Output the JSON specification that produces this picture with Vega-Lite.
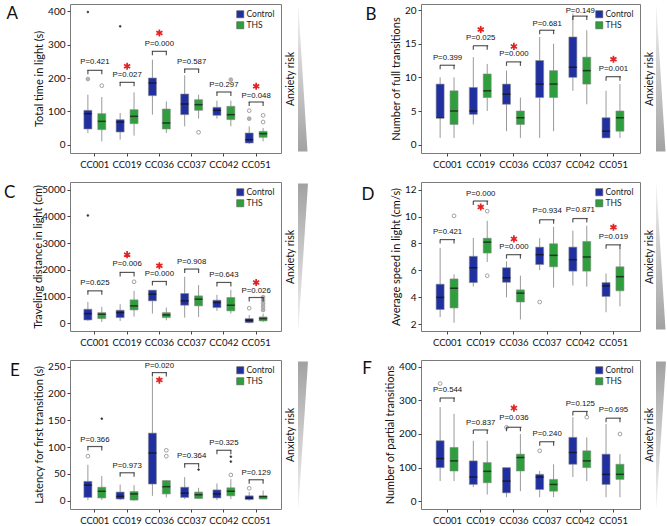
{
"$schema": "https://vega.github.io/schema/vega-lite/v6.json",
"padding": {"left": 3, "top": 3, "right": 0, "bottom": 0},
"columns": 4,
"align": "each",
"bounds": "full",
"spacing": {"row": 12, "column": 3},
"resolve": {"legend": {"color": "independent"}},
"config": {
 "font": "Lato",
 "view": {"stroke": "#7a7a7a", "strokeWidth": 1},
 "axis": {"grid": false, "domain": false, "labelOverlap": false, "labelFont": "Lato", "labelFontSize": 10, "labelColor": "#111", "tickColor": "#444", "tickSize": 3, "labelPadding": 2, "titleFont": "Lato", "titleFontSize": 11, "titleFontWeight": "normal", "titleColor": "#111", "titlePadding": 3},
 "axisY": {"labelOverlap": false, "tickCount": 12},
 "axisX": {"labelAngle": 0, "labelPadding": 3, "labelFontSize": 9.5},
 "legend": {"symbolType": "square", "symbolSize": 50, "labelFont": "Lato", "labelFontSize": 8.5, "labelColor": "#222", "rowPadding": 1, "padding": 0, "symbolStrokeColor": "#555", "symbolStrokeWidth": 0.6, "labelOffset": 2},
 "title": {"font": "Lato", "fontSize": 17, "fontWeight": "normal", "color": "#111", "orient": "left", "anchor": "end", "angle": 0, "align": "right", "baseline": "top", "frame": "group", "offset": 4}
},
"datasets": {
 "A_box": [
  {"g":"CC001","t":"Control","lo":35,"q1":47,"med":93,"q3":103,"hi":150},
  {"g":"CC001","t":"THS","lo":10,"q1":45,"med":70,"q3":93,"hi":143},
  {"g":"CC019","t":"Control","lo":15,"q1":38,"med":68,"q3":75,"hi":95},
  {"g":"CC019","t":"THS","lo":27,"q1":63,"med":85,"q3":105,"hi":157},
  {"g":"CC036","t":"Control","lo":90,"q1":147,"med":185,"q3":200,"hi":255},
  {"g":"CC036","t":"THS","lo":35,"q1":47,"med":65,"q3":107,"hi":130},
  {"g":"CC037","t":"Control","lo":55,"q1":90,"med":122,"q3":152,"hi":208},
  {"g":"CC037","t":"THS","lo":78,"q1":103,"med":120,"q3":135,"hi":150},
  {"g":"CC042","t":"Control","lo":78,"q1":88,"med":103,"q3":112,"hi":132},
  {"g":"CC042","t":"THS","lo":55,"q1":75,"med":90,"q3":115,"hi":132},
  {"g":"CC051","t":"Control","lo":2,"q1":5,"med":15,"q3":35,"hi":55},
  {"g":"CC051","t":"THS","lo":10,"q1":22,"med":33,"q3":40,"hi":50}
 ],
 "A_out": [
  {"g":"CC001","t":"Control","v":197,"k":"f"},
  {"g":"CC001","t":"Control","v":398,"k":"s"},
  {"g":"CC001","t":"THS","v":177,"k":"o"},
  {"g":"CC019","t":"Control","v":355,"k":"s"},
  {"g":"CC037","t":"THS","v":37,"k":"o"},
  {"g":"CC042","t":"THS","v":195,"k":"f"},
  {"g":"CC051","t":"Control","v":102,"k":"o"},
  {"g":"CC051","t":"Control","v":78,"k":"f"},
  {"g":"CC051","t":"THS","v":88,"k":"o"},
  {"g":"CC051","t":"THS","v":68,"k":"o"}
 ],
 "A_ann": [
  {"g":"CC001","p":"P=0.421","yb":223,"yp":247,"ys":null},
  {"g":"CC019","p":"P=0.027","yb":187,"yp":208,"ys":235},
  {"g":"CC036","p":"P=0.000","yb":280,"yp":303,"ys":335},
  {"g":"CC037","p":"P=0.587","yb":227,"yp":247,"ys":null},
  {"g":"CC042","p":"P=0.297","yb":158,"yp":180,"ys":null},
  {"g":"CC051","p":"P=0.048","yb":128,"yp":147,"ys":175}
 ],
 "B_box": [
  {"g":"CC001","t":"Control","lo":1,"q1":4,"med":4,"q3":9,"hi":10},
  {"g":"CC001","t":"THS","lo":1,"q1":3,"med":5,"q3":8,"hi":10},
  {"g":"CC019","t":"Control","lo":3,"q1":4.5,"med":5,"q3":8.5,"hi":13},
  {"g":"CC019","t":"THS","lo":5,"q1":7,"med":8,"q3":10.5,"hi":12},
  {"g":"CC036","t":"Control","lo":2,"q1":6,"med":7.5,"q3":9,"hi":11},
  {"g":"CC036","t":"THS","lo":1,"q1":3,"med":4,"q3":5,"hi":7},
  {"g":"CC037","t":"Control","lo":1,"q1":7,"med":9,"q3":12.5,"hi":16},
  {"g":"CC037","t":"THS","lo":2,"q1":7,"med":9,"q3":11,"hi":15},
  {"g":"CC042","t":"Control","lo":8,"q1":10,"med":11.5,"q3":16,"hi":19.5},
  {"g":"CC042","t":"THS","lo":6,"q1":9,"med":11,"q3":13,"hi":17},
  {"g":"CC051","t":"Control","lo":1,"q1":1,"med":2,"q3":4,"hi":8},
  {"g":"CC051","t":"THS","lo":1,"q1":2,"med":4,"q3":5,"hi":9}
 ],
 "B_ann": [
  {"g":"CC001","p":"P=0.399","yb":11.8,"yp":12.9,"ys":null},
  {"g":"CC019","p":"P=0.025","yb":14.7,"yp":15.9,"ys":17.1},
  {"g":"CC036","p":"P=0.000","yb":12.3,"yp":13.4,"ys":14.6},
  {"g":"CC037","p":"P=0.681","yb":17,"yp":18,"ys":null},
  {"g":"CC042","p":"P=0.149","yb":19.1,"yp":19.9,"ys":null},
  {"g":"CC051","p":"P=0.001","yb":10.1,"yp":11.2,"ys":12.7}
 ],
 "C_box": [
  {"g":"CC001","t":"Control","lo":88,"q1":125,"med":363,"q3":526,"hi":802},
  {"g":"CC001","t":"THS","lo":50,"q1":175,"med":338,"q3":400,"hi":614},
  {"g":"CC019","t":"Control","lo":88,"q1":213,"med":400,"q3":489,"hi":714},
  {"g":"CC019","t":"THS","lo":250,"q1":501,"med":652,"q3":877,"hi":1215},
  {"g":"CC036","t":"Control","lo":363,"q1":840,"med":1090,"q3":1240,"hi":1240},
  {"g":"CC036","t":"THS","lo":113,"q1":213,"med":313,"q3":400,"hi":589},
  {"g":"CC037","t":"Control","lo":213,"q1":677,"med":840,"q3":1115,"hi":1742},
  {"g":"CC037","t":"THS","lo":238,"q1":652,"med":902,"q3":1027,"hi":1428},
  {"g":"CC042","t":"Control","lo":464,"q1":589,"med":777,"q3":865,"hi":1065},
  {"g":"CC042","t":"THS","lo":363,"q1":464,"med":677,"q3":965,"hi":1253},
  {"g":"CC051","t":"Control","lo":0,"q1":25,"med":113,"q3":175,"hi":313},
  {"g":"CC051","t":"THS","lo":50,"q1":88,"med":175,"q3":238,"hi":363}
 ],
 "C_out": [
  {"g":"CC001","t":"Control","v":4035,"k":"s"},
  {"g":"CC019","t":"THS","v":1554,"k":"o"},
  {"g":"CC051","t":"Control","v":564,"k":"o"},
  {"g":"CC051","t":"THS","v":500,"k":"f"},
  {"g":"CC051","t":"THS","v":620,"k":"f"},
  {"g":"CC051","t":"THS","v":740,"k":"f"},
  {"g":"CC051","t":"THS","v":860,"k":"f"},
  {"g":"CC051","t":"THS","v":980,"k":"f"}
 ],
 "C_ann": [
  {"g":"CC001","p":"P=0.625","yb":1215,"yp":1504,"ys":null},
  {"g":"CC019","p":"P=0.006","yb":1905,"yp":2218,"ys":2569},
  {"g":"CC036","p":"P=0.000","yb":1566,"yp":1842,"ys":2155},
  {"g":"CC037","p":"P=0.908","yb":2030,"yp":2306,"ys":null},
  {"g":"CC042","p":"P=0.643","yb":1529,"yp":1817,"ys":null},
  {"g":"CC051","p":"P=0.026","yb":965,"yp":1215,"ys":1529}
 ],
 "D_box": [
  {"g":"CC001","t":"Control","lo":2.54,"q1":3.1,"med":4.0,"q3":4.98,"hi":7.68},
  {"g":"CC001","t":"THS","lo":2.12,"q1":3.22,"med":4.68,"q3":5.37,"hi":5.71},
  {"g":"CC019","t":"Control","lo":4.8,"q1":5.1,"med":6.2,"q3":7.05,"hi":8.41},
  {"g":"CC019","t":"THS","lo":6.63,"q1":7.29,"med":8.1,"q3":8.39,"hi":9.68},
  {"g":"CC036","t":"Control","lo":4.0,"q1":5.12,"med":5.46,"q3":6.2,"hi":6.68},
  {"g":"CC036","t":"THS","lo":2.37,"q1":3.66,"med":4.32,"q3":4.56,"hi":5.61},
  {"g":"CC037","t":"Control","lo":6.02,"q1":6.44,"med":7.17,"q3":7.73,"hi":8.39},
  {"g":"CC037","t":"THS","lo":4.73,"q1":6.27,"med":7.12,"q3":7.98,"hi":9.24},
  {"g":"CC042","t":"Control","lo":4.88,"q1":5.95,"med":6.8,"q3":7.73,"hi":8.95},
  {"g":"CC042","t":"THS","lo":4.8,"q1":5.95,"med":7.0,"q3":8.15,"hi":9.32},
  {"g":"CC051","t":"Control","lo":2.9,"q1":4.07,"med":4.85,"q3":5.1,"hi":5.78},
  {"g":"CC051","t":"THS","lo":3.34,"q1":4.49,"med":5.54,"q3":6.27,"hi":7.66}
 ],
 "D_out": [
  {"g":"CC001","t":"THS","v":10.05,"k":"o"},
  {"g":"CC019","t":"THS","v":5.61,"k":"o"},
  {"g":"CC019","t":"THS","v":10.4,"k":"o"},
  {"g":"CC037","t":"Control","v":3.66,"k":"o"}
 ],
 "D_ann": [
  {"g":"CC001","p":"P=0.421","yb":8.29,"yp":8.88,"ys":null},
  {"g":"CC019","p":"P=0.000","yb":11.15,"yp":11.7,"ys":10.7},
  {"g":"CC036","p":"P=0.000","yb":7.17,"yp":7.73,"ys":8.34},
  {"g":"CC037","p":"P=0.934","yb":9.76,"yp":10.41,"ys":null},
  {"g":"CC042","p":"P=0.871","yb":9.85,"yp":10.49,"ys":null},
  {"g":"CC051","p":"P=0.019","yb":7.9,"yp":8.46,"ys":9.2}
 ],
 "E_box": [
  {"g":"CC001","t":"Control","lo":1,"q1":6,"med":29,"q3":36,"hi":67},
  {"g":"CC001","t":"THS","lo":1,"q1":5,"med":17.5,"q3":25,"hi":46},
  {"g":"CC019","t":"Control","lo":1,"q1":3,"med":8,"q3":16,"hi":30},
  {"g":"CC019","t":"THS","lo":0,"q1":1,"med":12.5,"q3":17,"hi":29},
  {"g":"CC036","t":"Control","lo":9,"q1":31,"med":89,"q3":126,"hi":230},
  {"g":"CC036","t":"THS","lo":6,"q1":12.5,"med":26,"q3":37.5,"hi":38},
  {"g":"CC037","t":"Control","lo":3,"q1":6,"med":14,"q3":25,"hi":44},
  {"g":"CC037","t":"THS","lo":3,"q1":4,"med":11,"q3":16,"hi":24},
  {"g":"CC042","t":"Control","lo":1,"q1":5,"med":12.5,"q3":20,"hi":32},
  {"g":"CC042","t":"THS","lo":3,"q1":9,"med":17.5,"q3":24,"hi":40},
  {"g":"CC051","t":"Control","lo":0,"q1":2,"med":5,"q3":9,"hi":16},
  {"g":"CC051","t":"THS","lo":3,"q1":3,"med":7.5,"q3":9,"hi":19}
 ],
 "E_out": [
  {"g":"CC001","t":"Control","v":83,"k":"o"},
  {"g":"CC001","t":"THS","v":153,"k":"s"},
  {"g":"CC036","t":"THS","v":94,"k":"o"},
  {"g":"CC036","t":"THS","v":83,"k":"o"},
  {"g":"CC037","t":"THS","v":58,"k":"s"},
  {"g":"CC042","t":"THS","v":48,"k":"o"},
  {"g":"CC042","t":"THS","v":73,"k":"s"},
  {"g":"CC042","t":"THS","v":82,"k":"s"},
  {"g":"CC051","t":"Control","v":23,"k":"o"}
 ],
 "E_ann": [
  {"g":"CC001","p":"P=0.366","yb":101,"yp":114,"ys":null},
  {"g":"CC019","p":"P=0.973","yb":52,"yp":64,"ys":null},
  {"g":"CC036","p":"P=0.020","yb":239,"yp":252,"ys":225},
  {"g":"CC037","p":"P=0.364","yb":69,"yp":83,"ys":null},
  {"g":"CC042","p":"P=0.325","yb":94,"yp":108,"ys":null},
  {"g":"CC051","p":"P=0.129","yb":39,"yp":52,"ys":null}
 ],
 "F_box": [
  {"g":"CC001","t":"Control","lo":60,"q1":100,"med":127,"q3":180,"hi":280},
  {"g":"CC001","t":"THS","lo":60,"q1":90,"med":120,"q3":160,"hi":260},
  {"g":"CC019","t":"Control","lo":42,"q1":50,"med":72,"q3":120,"hi":180},
  {"g":"CC019","t":"THS","lo":20,"q1":55,"med":89,"q3":115,"hi":180},
  {"g":"CC036","t":"Control","lo":12,"q1":25,"med":60,"q3":100,"hi":100},
  {"g":"CC036","t":"THS","lo":30,"q1":90,"med":130,"q3":140,"hi":200},
  {"g":"CC037","t":"Control","lo":12,"q1":35,"med":72,"q3":80,"hi":90},
  {"g":"CC037","t":"THS","lo":12,"q1":30,"med":50,"q3":65,"hi":110},
  {"g":"CC042","t":"Control","lo":72,"q1":110,"med":145,"q3":190,"hi":250},
  {"g":"CC042","t":"THS","lo":60,"q1":100,"med":120,"q3":150,"hi":190},
  {"g":"CC051","t":"Control","lo":12,"q1":50,"med":80,"q3":140,"hi":230},
  {"g":"CC051","t":"THS","lo":12,"q1":65,"med":80,"q3":110,"hi":140}
 ],
 "F_out": [
  {"g":"CC001","t":"Control","v":350,"k":"o"},
  {"g":"CC036","t":"Control","v":220,"k":"o"},
  {"g":"CC037","t":"Control","v":150,"k":"o"},
  {"g":"CC042","t":"THS","v":250,"k":"o"},
  {"g":"CC051","t":"THS","v":200,"k":"o"}
 ],
 "F_ann": [
  {"g":"CC001","p":"P=0.544","yb":307,"yp":330,"ys":null},
  {"g":"CC019","p":"P=0.837","yb":212,"yp":232,"ys":null},
  {"g":"CC036","p":"P=0.036","yb":220,"yp":247,"ys":277},
  {"g":"CC037","p":"P=0.240","yb":177,"yp":199,"ys":null},
  {"g":"CC042","p":"P=0.125","yb":267,"yp":289,"ys":null},
  {"g":"CC051","p":"P=0.695","yb":247,"yp":272,"ys":null}
 ],
 "wedge_up": [{"t":0.01,"a":0,"b":9.5},{"t":0.985,"a":0,"b":0.4}],
 "wedge_down": [{"t":0.01,"a":0,"b":0.4},{"t":0.99,"a":0,"b":10}]
},
"concat": [
 {"width": 211, "height": 149,
  "title": {"text": "A", "dy": 2},
  "layer": [
   {"data": {"name": "A_box"}, "mark": {"type": "rule", "color": "#9a9a9a", "strokeWidth": 1},
    "encoding": {"x": {"field": "g", "type": "nominal", "scale": {"paddingOuter": 0.27, "paddingInner": 0}, "axis": {"title": null}},
     "xOffset": {"field": "t", "type": "nominal", "scale": {"domain": ["Control","THS"], "paddingOuter": 0.16, "paddingInner": 0}},
     "y": {"field": "lo", "type": "quantitative", "scale": {"domain": [-25, 422], "nice": false, "zero": false}, "axis": {"title": "Total time in light (s)", "values": [0,100,200,300,400], "tickCount": 12, "labelOverlap": false}},
     "y2": {"field": "hi"}}},
   {"data": {"name": "A_box"}, "mark": {"type": "bar", "size": 8, "stroke": "#8a8a8a", "strokeWidth": 0.6},
    "encoding": {"x": {"field": "g", "type": "nominal"}, "xOffset": {"field": "t", "type": "nominal"},
     "y": {"field": "q1", "type": "quantitative"}, "y2": {"field": "q3"},
     "color": {"field": "t", "type": "nominal", "scale": {"domain": ["Control","THS"], "range": ["#2030a0","#2f9e3c"]}, "legend": {"title": null, "orient": "top-right", "offset": 6}}}},
   {"data": {"name": "A_box"}, "mark": {"type": "tick", "orient": "horizontal", "color": "#111", "size": 8, "thickness": 1.5},
    "encoding": {"x": {"field": "g", "type": "nominal"}, "xOffset": {"field": "t", "type": "nominal"}, "y": {"field": "med", "type": "quantitative"}}},
   {"data": {"name": "A_out"}, "mark": {"type": "point", "shape": "circle", "strokeWidth": 0.8, "opacity": 1},
    "encoding": {"x": {"field": "g", "type": "nominal"}, "xOffset": {"field": "t", "type": "nominal"}, "y": {"field": "v", "type": "quantitative"},
     "fill": {"field": "k", "type": "nominal", "scale": {"domain": ["o","f","s"], "range": ["#ffffff","#b5b5b5","#333333"]}, "legend": null},
     "stroke": {"field": "k", "type": "nominal", "scale": {"domain": ["o","f","s"], "range": ["#8a8a8a","#9a9a9a","#333333"]}, "legend": null},
     "size": {"field": "k", "type": "ordinal", "scale": {"type": "ordinal", "domain": ["o","f","s"], "range": [14,14,3]}, "legend": null}}},
   {"data": {"name": "A_ann"}, "mark": {"type": "tick", "orient": "horizontal", "size": 15, "thickness": 1.2, "color": "#111"},
    "encoding": {"x": {"field": "g", "type": "nominal"}, "y": {"field": "yb", "type": "quantitative"}}},
   {"data": {"name": "A_ann"}, "mark": {"type": "tick", "orient": "vertical", "size": 4, "thickness": 1.2, "color": "#111", "yOffset": 2},
    "encoding": {"x": {"field": "g", "type": "nominal"}, "xOffset": {"datum": "Control"}, "y": {"field": "yb", "type": "quantitative"}}},
   {"data": {"name": "A_ann"}, "mark": {"type": "tick", "orient": "vertical", "size": 4, "thickness": 1.2, "color": "#111", "yOffset": 2},
    "encoding": {"x": {"field": "g", "type": "nominal"}, "xOffset": {"datum": "THS"}, "y": {"field": "yb", "type": "quantitative"}}},
   {"data": {"name": "A_ann"}, "mark": {"type": "text", "font": "Liberation Sans", "fontSize": 7.8, "color": "#111", "baseline": "middle"},
    "encoding": {"x": {"field": "g", "type": "nominal"}, "y": {"field": "yp", "type": "quantitative"}, "text": {"field": "p"}}},
   {"data": {"name": "A_ann"}, "transform": [{"filter": "datum.ys != null"}], "mark": {"type": "point", "shape": "M0,-1L0,1M-0.87,-0.5L0.87,0.5M-0.87,0.5L0.87,-0.5", "filled": false, "color": "#e52222", "strokeWidth": 1.7, "size": 50, "opacity": 1},
    "encoding": {"x": {"field": "g", "type": "nominal"}, "y": {"field": "ys", "type": "quantitative"}}}
  ]},
 {"width": 60, "height": 149, "view": {"stroke": null},
  "data": {"name": "wedge_up"},
  "mark": {"type": "area", "orient": "horizontal", "color": {"gradient": "linear", "x1": 0, "y1": 0, "x2": 0, "y2": 1, "stops": [{"offset": 0, "color": "#f2f2f2"}, {"offset": 1, "color": "#a2a2a2"}]}},
  "encoding": {"y": {"field": "t", "type": "quantitative", "scale": {"domain": [0, 1]}, "axis": {"title": "Anxiety risk", "titleFontSize": 10.5, "labels": false, "ticks": false, "domain": false, "titlePadding": 3}},
   "x": {"field": "a", "type": "quantitative", "scale": {"domain": [0, 60]}, "axis": null}, "x2": {"field": "b"}}},
 {"width": 219, "height": 149,
  "title": {"text": "B", "dy": 3, "offset": 3},
  "layer": [
   {"data": {"name": "B_box"}, "mark": {"type": "rule", "color": "#9a9a9a", "strokeWidth": 1},
    "encoding": {"x": {"field": "g", "type": "nominal", "scale": {"paddingOuter": 0.3, "paddingInner": 0}, "axis": {"title": null}},
     "xOffset": {"field": "t", "type": "nominal", "scale": {"domain": ["Control","THS"], "paddingOuter": 0.16, "paddingInner": 0}},
     "y": {"field": "lo", "type": "quantitative", "scale": {"domain": [-1.24, 20.9], "nice": false, "zero": false}, "axis": {"title": "Number of full transitions", "values": [0,5,10,15,20], "tickCount": 12, "labelOverlap": false}},
     "y2": {"field": "hi"}}},
   {"data": {"name": "B_box"}, "mark": {"type": "bar", "size": 8, "stroke": "#8a8a8a", "strokeWidth": 0.6},
    "encoding": {"x": {"field": "g", "type": "nominal"}, "xOffset": {"field": "t", "type": "nominal"},
     "y": {"field": "q1", "type": "quantitative"}, "y2": {"field": "q3"},
     "color": {"field": "t", "type": "nominal", "scale": {"domain": ["Control","THS"], "range": ["#2030a0","#2f9e3c"]}, "legend": {"title": null, "orient": "top-right", "offset": 6}}}},
   {"data": {"name": "B_box"}, "mark": {"type": "tick", "orient": "horizontal", "color": "#111", "size": 8, "thickness": 1.5},
    "encoding": {"x": {"field": "g", "type": "nominal"}, "xOffset": {"field": "t", "type": "nominal"}, "y": {"field": "med", "type": "quantitative"}}},
   {"data": {"name": "B_ann"}, "mark": {"type": "tick", "orient": "horizontal", "size": 15, "thickness": 1.2, "color": "#111"},
    "encoding": {"x": {"field": "g", "type": "nominal"}, "y": {"field": "yb", "type": "quantitative"}}},
   {"data": {"name": "B_ann"}, "mark": {"type": "tick", "orient": "vertical", "size": 4, "thickness": 1.2, "color": "#111", "yOffset": 2},
    "encoding": {"x": {"field": "g", "type": "nominal"}, "xOffset": {"datum": "Control"}, "y": {"field": "yb", "type": "quantitative"}}},
   {"data": {"name": "B_ann"}, "mark": {"type": "tick", "orient": "vertical", "size": 4, "thickness": 1.2, "color": "#111", "yOffset": 2},
    "encoding": {"x": {"field": "g", "type": "nominal"}, "xOffset": {"datum": "THS"}, "y": {"field": "yb", "type": "quantitative"}}},
   {"data": {"name": "B_ann"}, "mark": {"type": "text", "font": "Liberation Sans", "fontSize": 7.8, "color": "#111", "baseline": "middle"},
    "encoding": {"x": {"field": "g", "type": "nominal"}, "y": {"field": "yp", "type": "quantitative"}, "text": {"field": "p"}}},
   {"data": {"name": "B_ann"}, "transform": [{"filter": "datum.ys != null"}], "mark": {"type": "point", "shape": "M0,-1L0,1M-0.87,-0.5L0.87,0.5M-0.87,0.5L0.87,-0.5", "filled": false, "color": "#e52222", "strokeWidth": 1.7, "size": 50, "opacity": 1},
    "encoding": {"x": {"field": "g", "type": "nominal"}, "y": {"field": "ys", "type": "quantitative"}}}
  ]},
 {"width": 10, "height": 149, "view": {"stroke": null},
  "data": {"name": "wedge_up"},
  "mark": {"type": "area", "orient": "horizontal", "color": {"gradient": "linear", "x1": 0, "y1": 0, "x2": 0, "y2": 1, "stops": [{"offset": 0, "color": "#f2f2f2"}, {"offset": 1, "color": "#a2a2a2"}]}},
  "encoding": {"y": {"field": "t", "type": "quantitative", "scale": {"domain": [0, 1]}, "axis": {"title": "Anxiety risk", "titleFontSize": 10.5, "labels": false, "ticks": false, "domain": false, "titlePadding": 2}},
   "x": {"field": "a", "type": "quantitative", "scale": {"domain": [0, 10]}, "axis": null}, "x2": {"field": "b"}}},
 {"width": 211, "height": 149,
  "title": {"text": "C", "dy": 3, "offset": 6},
  "layer": [
   {"data": {"name": "C_box"}, "mark": {"type": "rule", "color": "#9a9a9a", "strokeWidth": 1},
    "encoding": {"x": {"field": "g", "type": "nominal", "scale": {"paddingOuter": 0.27, "paddingInner": 0}, "axis": {"title": null}},
     "xOffset": {"field": "t", "type": "nominal", "scale": {"domain": ["Control","THS"], "paddingOuter": 0.16, "paddingInner": 0}},
     "y": {"field": "lo", "type": "quantitative", "scale": {"domain": [-288, 5288], "nice": false, "zero": false}, "axis": {"title": "Traveling distance in light (cm)", "values": [0,1000,2000,3000,4000,5000], "tickCount": 12, "format": "d", "titlePadding": -2, "labelOverlap": false}},
     "y2": {"field": "hi"}}},
   {"data": {"name": "C_box"}, "mark": {"type": "bar", "size": 8, "stroke": "#8a8a8a", "strokeWidth": 0.6},
    "encoding": {"x": {"field": "g", "type": "nominal"}, "xOffset": {"field": "t", "type": "nominal"},
     "y": {"field": "q1", "type": "quantitative"}, "y2": {"field": "q3"},
     "color": {"field": "t", "type": "nominal", "scale": {"domain": ["Control","THS"], "range": ["#2030a0","#2f9e3c"]}, "legend": {"title": null, "orient": "top-right", "offset": 6}}}},
   {"data": {"name": "C_box"}, "mark": {"type": "tick", "orient": "horizontal", "color": "#111", "size": 8, "thickness": 1.5},
    "encoding": {"x": {"field": "g", "type": "nominal"}, "xOffset": {"field": "t", "type": "nominal"}, "y": {"field": "med", "type": "quantitative"}}},
   {"data": {"name": "C_out"}, "mark": {"type": "point", "shape": "circle", "strokeWidth": 0.8, "opacity": 1},
    "encoding": {"x": {"field": "g", "type": "nominal"}, "xOffset": {"field": "t", "type": "nominal"}, "y": {"field": "v", "type": "quantitative"},
     "fill": {"field": "k", "type": "nominal", "scale": {"domain": ["o","f","s"], "range": ["#ffffff","#b5b5b5","#333333"]}, "legend": null},
     "stroke": {"field": "k", "type": "nominal", "scale": {"domain": ["o","f","s"], "range": ["#8a8a8a","#9a9a9a","#333333"]}, "legend": null},
     "size": {"field": "k", "type": "ordinal", "scale": {"type": "ordinal", "domain": ["o","f","s"], "range": [14,14,3]}, "legend": null}}},
   {"data": {"name": "C_ann"}, "mark": {"type": "tick", "orient": "horizontal", "size": 15, "thickness": 1.2, "color": "#111"},
    "encoding": {"x": {"field": "g", "type": "nominal"}, "y": {"field": "yb", "type": "quantitative"}}},
   {"data": {"name": "C_ann"}, "mark": {"type": "tick", "orient": "vertical", "size": 4, "thickness": 1.2, "color": "#111", "yOffset": 2},
    "encoding": {"x": {"field": "g", "type": "nominal"}, "xOffset": {"datum": "Control"}, "y": {"field": "yb", "type": "quantitative"}}},
   {"data": {"name": "C_ann"}, "mark": {"type": "tick", "orient": "vertical", "size": 4, "thickness": 1.2, "color": "#111", "yOffset": 2},
    "encoding": {"x": {"field": "g", "type": "nominal"}, "xOffset": {"datum": "THS"}, "y": {"field": "yb", "type": "quantitative"}}},
   {"data": {"name": "C_ann"}, "mark": {"type": "text", "font": "Liberation Sans", "fontSize": 7.8, "color": "#111", "baseline": "middle"},
    "encoding": {"x": {"field": "g", "type": "nominal"}, "y": {"field": "yp", "type": "quantitative"}, "text": {"field": "p"}}},
   {"data": {"name": "C_ann"}, "transform": [{"filter": "datum.ys != null"}], "mark": {"type": "point", "shape": "M0,-1L0,1M-0.87,-0.5L0.87,0.5M-0.87,0.5L0.87,-0.5", "filled": false, "color": "#e52222", "strokeWidth": 1.7, "size": 50, "opacity": 1},
    "encoding": {"x": {"field": "g", "type": "nominal"}, "y": {"field": "ys", "type": "quantitative"}}}
  ]},
 {"width": 60, "height": 149, "view": {"stroke": null},
  "data": {"name": "wedge_down"},
  "mark": {"type": "area", "orient": "horizontal", "color": {"gradient": "linear", "x1": 0, "y1": 0, "x2": 0, "y2": 1, "stops": [{"offset": 0, "color": "#a2a2a2"}, {"offset": 1, "color": "#f2f2f2"}]}},
  "encoding": {"y": {"field": "t", "type": "quantitative", "scale": {"domain": [0, 1]}, "axis": {"title": "Anxiety risk", "titleFontSize": 10.5, "labels": false, "ticks": false, "domain": false, "titlePadding": 3}},
   "x": {"field": "a", "type": "quantitative", "scale": {"domain": [0, 60]}, "axis": null}, "x2": {"field": "b"}}},
 {"width": 219, "height": 149,
  "title": {"text": "D", "dy": 5, "offset": 3},
  "layer": [
   {"data": {"name": "D_box"}, "mark": {"type": "rule", "color": "#9a9a9a", "strokeWidth": 1},
    "encoding": {"x": {"field": "g", "type": "nominal", "scale": {"paddingOuter": 0.3, "paddingInner": 0}, "axis": {"title": null}},
     "xOffset": {"field": "t", "type": "nominal", "scale": {"domain": ["Control","THS"], "paddingOuter": 0.16, "paddingInner": 0}},
     "y": {"field": "lo", "type": "quantitative", "scale": {"domain": [1.51, 12.56], "nice": false, "zero": false}, "axis": {"title": "Average speed in light (cm/s)", "values": [2,4,6,8,10,12], "tickCount": 12, "labelOverlap": false}},
     "y2": {"field": "hi"}}},
   {"data": {"name": "D_box"}, "mark": {"type": "bar", "size": 8, "stroke": "#8a8a8a", "strokeWidth": 0.6},
    "encoding": {"x": {"field": "g", "type": "nominal"}, "xOffset": {"field": "t", "type": "nominal"},
     "y": {"field": "q1", "type": "quantitative"}, "y2": {"field": "q3"},
     "color": {"field": "t", "type": "nominal", "scale": {"domain": ["Control","THS"], "range": ["#2030a0","#2f9e3c"]}, "legend": {"title": null, "orient": "top-right", "offset": 6}}}},
   {"data": {"name": "D_box"}, "mark": {"type": "tick", "orient": "horizontal", "color": "#111", "size": 8, "thickness": 1.5},
    "encoding": {"x": {"field": "g", "type": "nominal"}, "xOffset": {"field": "t", "type": "nominal"}, "y": {"field": "med", "type": "quantitative"}}},
   {"data": {"name": "D_out"}, "mark": {"type": "point", "shape": "circle", "strokeWidth": 0.8, "opacity": 1},
    "encoding": {"x": {"field": "g", "type": "nominal"}, "xOffset": {"field": "t", "type": "nominal"}, "y": {"field": "v", "type": "quantitative"},
     "fill": {"field": "k", "type": "nominal", "scale": {"domain": ["o","f","s"], "range": ["#ffffff","#b5b5b5","#333333"]}, "legend": null},
     "stroke": {"field": "k", "type": "nominal", "scale": {"domain": ["o","f","s"], "range": ["#8a8a8a","#9a9a9a","#333333"]}, "legend": null},
     "size": {"field": "k", "type": "ordinal", "scale": {"type": "ordinal", "domain": ["o","f","s"], "range": [14,14,3]}, "legend": null}}},
   {"data": {"name": "D_ann"}, "mark": {"type": "tick", "orient": "horizontal", "size": 15, "thickness": 1.2, "color": "#111"},
    "encoding": {"x": {"field": "g", "type": "nominal"}, "y": {"field": "yb", "type": "quantitative"}}},
   {"data": {"name": "D_ann"}, "mark": {"type": "tick", "orient": "vertical", "size": 4, "thickness": 1.2, "color": "#111", "yOffset": 2},
    "encoding": {"x": {"field": "g", "type": "nominal"}, "xOffset": {"datum": "Control"}, "y": {"field": "yb", "type": "quantitative"}}},
   {"data": {"name": "D_ann"}, "mark": {"type": "tick", "orient": "vertical", "size": 4, "thickness": 1.2, "color": "#111", "yOffset": 2},
    "encoding": {"x": {"field": "g", "type": "nominal"}, "xOffset": {"datum": "THS"}, "y": {"field": "yb", "type": "quantitative"}}},
   {"data": {"name": "D_ann"}, "mark": {"type": "text", "font": "Liberation Sans", "fontSize": 7.8, "color": "#111", "baseline": "middle"},
    "encoding": {"x": {"field": "g", "type": "nominal"}, "y": {"field": "yp", "type": "quantitative"}, "text": {"field": "p"}}},
   {"data": {"name": "D_ann"}, "transform": [{"filter": "datum.ys != null"}], "mark": {"type": "point", "shape": "M0,-1L0,1M-0.87,-0.5L0.87,0.5M-0.87,0.5L0.87,-0.5", "filled": false, "color": "#e52222", "strokeWidth": 1.7, "size": 50, "opacity": 1},
    "encoding": {"x": {"field": "g", "type": "nominal"}, "y": {"field": "ys", "type": "quantitative"}}}
  ]},
 {"width": 10, "height": 149, "view": {"stroke": null},
  "data": {"name": "wedge_up"},
  "mark": {"type": "area", "orient": "horizontal", "color": {"gradient": "linear", "x1": 0, "y1": 0, "x2": 0, "y2": 1, "stops": [{"offset": 0, "color": "#f2f2f2"}, {"offset": 1, "color": "#a2a2a2"}]}},
  "encoding": {"y": {"field": "t", "type": "quantitative", "scale": {"domain": [0, 1]}, "axis": {"title": "Anxiety risk", "titleFontSize": 10.5, "labels": false, "ticks": false, "domain": false, "titlePadding": 2}},
   "x": {"field": "a", "type": "quantitative", "scale": {"domain": [0, 10]}, "axis": null}, "x2": {"field": "b"}}},
 {"width": 211, "height": 149,
  "title": {"text": "E", "dy": 3},
  "layer": [
   {"data": {"name": "E_box"}, "mark": {"type": "rule", "color": "#9a9a9a", "strokeWidth": 1},
    "encoding": {"x": {"field": "g", "type": "nominal", "scale": {"paddingOuter": 0.27, "paddingInner": 0}, "axis": {"title": null}},
     "xOffset": {"field": "t", "type": "nominal", "scale": {"domain": ["Control","THS"], "paddingOuter": 0.16, "paddingInner": 0}},
     "y": {"field": "lo", "type": "quantitative", "scale": {"domain": [-15.6, 262.5], "nice": false, "zero": false}, "axis": {"title": "Latency for first transition (s)", "values": [0,50,100,150,200,250], "tickCount": 12, "labelOverlap": false}},
     "y2": {"field": "hi"}}},
   {"data": {"name": "E_box"}, "mark": {"type": "bar", "size": 8, "stroke": "#8a8a8a", "strokeWidth": 0.6},
    "encoding": {"x": {"field": "g", "type": "nominal"}, "xOffset": {"field": "t", "type": "nominal"},
     "y": {"field": "q1", "type": "quantitative"}, "y2": {"field": "q3"},
     "color": {"field": "t", "type": "nominal", "scale": {"domain": ["Control","THS"], "range": ["#2030a0","#2f9e3c"]}, "legend": {"title": null, "orient": "top-right", "offset": 6}}}},
   {"data": {"name": "E_box"}, "mark": {"type": "tick", "orient": "horizontal", "color": "#111", "size": 8, "thickness": 1.5},
    "encoding": {"x": {"field": "g", "type": "nominal"}, "xOffset": {"field": "t", "type": "nominal"}, "y": {"field": "med", "type": "quantitative"}}},
   {"data": {"name": "E_out"}, "mark": {"type": "point", "shape": "circle", "strokeWidth": 0.8, "opacity": 1},
    "encoding": {"x": {"field": "g", "type": "nominal"}, "xOffset": {"field": "t", "type": "nominal"}, "y": {"field": "v", "type": "quantitative"},
     "fill": {"field": "k", "type": "nominal", "scale": {"domain": ["o","f","s"], "range": ["#ffffff","#b5b5b5","#333333"]}, "legend": null},
     "stroke": {"field": "k", "type": "nominal", "scale": {"domain": ["o","f","s"], "range": ["#8a8a8a","#9a9a9a","#333333"]}, "legend": null},
     "size": {"field": "k", "type": "ordinal", "scale": {"type": "ordinal", "domain": ["o","f","s"], "range": [14,14,3]}, "legend": null}}},
   {"data": {"name": "E_ann"}, "mark": {"type": "tick", "orient": "horizontal", "size": 15, "thickness": 1.2, "color": "#111"},
    "encoding": {"x": {"field": "g", "type": "nominal"}, "y": {"field": "yb", "type": "quantitative"}}},
   {"data": {"name": "E_ann"}, "mark": {"type": "tick", "orient": "vertical", "size": 4, "thickness": 1.2, "color": "#111", "yOffset": 2},
    "encoding": {"x": {"field": "g", "type": "nominal"}, "xOffset": {"datum": "Control"}, "y": {"field": "yb", "type": "quantitative"}}},
   {"data": {"name": "E_ann"}, "mark": {"type": "tick", "orient": "vertical", "size": 4, "thickness": 1.2, "color": "#111", "yOffset": 2},
    "encoding": {"x": {"field": "g", "type": "nominal"}, "xOffset": {"datum": "THS"}, "y": {"field": "yb", "type": "quantitative"}}},
   {"data": {"name": "E_ann"}, "mark": {"type": "text", "font": "Liberation Sans", "fontSize": 7.8, "color": "#111", "baseline": "middle"},
    "encoding": {"x": {"field": "g", "type": "nominal"}, "y": {"field": "yp", "type": "quantitative"}, "text": {"field": "p"}}},
   {"data": {"name": "E_ann"}, "transform": [{"filter": "datum.ys != null"}], "mark": {"type": "point", "shape": "M0,-1L0,1M-0.87,-0.5L0.87,0.5M-0.87,0.5L0.87,-0.5", "filled": false, "color": "#e52222", "strokeWidth": 1.7, "size": 50, "opacity": 1},
    "encoding": {"x": {"field": "g", "type": "nominal"}, "y": {"field": "ys", "type": "quantitative"}}}
  ]},
 {"width": 60, "height": 149, "view": {"stroke": null},
  "data": {"name": "wedge_down"},
  "mark": {"type": "area", "orient": "horizontal", "color": {"gradient": "linear", "x1": 0, "y1": 0, "x2": 0, "y2": 1, "stops": [{"offset": 0, "color": "#a2a2a2"}, {"offset": 1, "color": "#f2f2f2"}]}},
  "encoding": {"y": {"field": "t", "type": "quantitative", "scale": {"domain": [0, 1]}, "axis": {"title": "Anxiety risk", "titleFontSize": 10.5, "labels": false, "ticks": false, "domain": false, "titlePadding": 3}},
   "x": {"field": "a", "type": "quantitative", "scale": {"domain": [0, 60]}, "axis": null}, "x2": {"field": "b"}}},
 {"width": 219, "height": 149,
  "title": {"text": "F", "dy": 1, "offset": 3},
  "layer": [
   {"data": {"name": "F_box"}, "mark": {"type": "rule", "color": "#9a9a9a", "strokeWidth": 1},
    "encoding": {"x": {"field": "g", "type": "nominal", "scale": {"paddingOuter": 0.3, "paddingInner": 0}, "axis": {"title": null}},
     "xOffset": {"field": "t", "type": "nominal", "scale": {"domain": ["Control","THS"], "paddingOuter": 0.16, "paddingInner": 0}},
     "y": {"field": "lo", "type": "quantitative", "scale": {"domain": [-23, 420], "nice": false, "zero": false}, "axis": {"title": "Number of partial transitions", "values": [0,100,200,300,400], "tickCount": 12, "labelOverlap": false}},
     "y2": {"field": "hi"}}},
   {"data": {"name": "F_box"}, "mark": {"type": "bar", "size": 8, "stroke": "#8a8a8a", "strokeWidth": 0.6},
    "encoding": {"x": {"field": "g", "type": "nominal"}, "xOffset": {"field": "t", "type": "nominal"},
     "y": {"field": "q1", "type": "quantitative"}, "y2": {"field": "q3"},
     "color": {"field": "t", "type": "nominal", "scale": {"domain": ["Control","THS"], "range": ["#2030a0","#2f9e3c"]}, "legend": {"title": null, "orient": "top-right", "offset": 6}}}},
   {"data": {"name": "F_box"}, "mark": {"type": "tick", "orient": "horizontal", "color": "#111", "size": 8, "thickness": 1.5},
    "encoding": {"x": {"field": "g", "type": "nominal"}, "xOffset": {"field": "t", "type": "nominal"}, "y": {"field": "med", "type": "quantitative"}}},
   {"data": {"name": "F_out"}, "mark": {"type": "point", "shape": "circle", "strokeWidth": 0.8, "opacity": 1},
    "encoding": {"x": {"field": "g", "type": "nominal"}, "xOffset": {"field": "t", "type": "nominal"}, "y": {"field": "v", "type": "quantitative"},
     "fill": {"field": "k", "type": "nominal", "scale": {"domain": ["o","f","s"], "range": ["#ffffff","#b5b5b5","#333333"]}, "legend": null},
     "stroke": {"field": "k", "type": "nominal", "scale": {"domain": ["o","f","s"], "range": ["#8a8a8a","#9a9a9a","#333333"]}, "legend": null},
     "size": {"field": "k", "type": "ordinal", "scale": {"type": "ordinal", "domain": ["o","f","s"], "range": [14,14,3]}, "legend": null}}},
   {"data": {"name": "F_ann"}, "mark": {"type": "tick", "orient": "horizontal", "size": 15, "thickness": 1.2, "color": "#111"},
    "encoding": {"x": {"field": "g", "type": "nominal"}, "y": {"field": "yb", "type": "quantitative"}}},
   {"data": {"name": "F_ann"}, "mark": {"type": "tick", "orient": "vertical", "size": 4, "thickness": 1.2, "color": "#111", "yOffset": 2},
    "encoding": {"x": {"field": "g", "type": "nominal"}, "xOffset": {"datum": "Control"}, "y": {"field": "yb", "type": "quantitative"}}},
   {"data": {"name": "F_ann"}, "mark": {"type": "tick", "orient": "vertical", "size": 4, "thickness": 1.2, "color": "#111", "yOffset": 2},
    "encoding": {"x": {"field": "g", "type": "nominal"}, "xOffset": {"datum": "THS"}, "y": {"field": "yb", "type": "quantitative"}}},
   {"data": {"name": "F_ann"}, "mark": {"type": "text", "font": "Liberation Sans", "fontSize": 7.8, "color": "#111", "baseline": "middle"},
    "encoding": {"x": {"field": "g", "type": "nominal"}, "y": {"field": "yp", "type": "quantitative"}, "text": {"field": "p"}}},
   {"data": {"name": "F_ann"}, "transform": [{"filter": "datum.ys != null"}], "mark": {"type": "point", "shape": "M0,-1L0,1M-0.87,-0.5L0.87,0.5M-0.87,0.5L0.87,-0.5", "filled": false, "color": "#e52222", "strokeWidth": 1.7, "size": 50, "opacity": 1},
    "encoding": {"x": {"field": "g", "type": "nominal"}, "y": {"field": "ys", "type": "quantitative"}}}
  ]},
 {"width": 10, "height": 149, "view": {"stroke": null},
  "data": {"name": "wedge_down"},
  "mark": {"type": "area", "orient": "horizontal", "color": {"gradient": "linear", "x1": 0, "y1": 0, "x2": 0, "y2": 1, "stops": [{"offset": 0, "color": "#a2a2a2"}, {"offset": 1, "color": "#f2f2f2"}]}},
  "encoding": {"y": {"field": "t", "type": "quantitative", "scale": {"domain": [0, 1]}, "axis": {"title": "Anxiety risk", "titleFontSize": 10.5, "labels": false, "ticks": false, "domain": false, "titlePadding": 2}},
   "x": {"field": "a", "type": "quantitative", "scale": {"domain": [0, 10]}, "axis": null}, "x2": {"field": "b"}}}
]
}
